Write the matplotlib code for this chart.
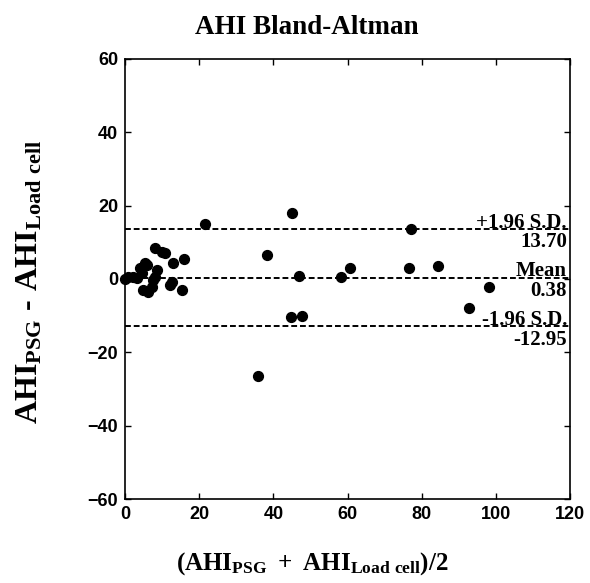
import numpy as np
import matplotlib
matplotlib.use("Agg")
import matplotlib.pyplot as plt

# mean of the two AHI measurements and their difference (PSG - load cell)
ahi_mean = [0.0, 0.8, 2.2, 3.2, 4.0, 4.6, 4.9, 5.4, 5.9, 6.2, 7.3, 7.6, 8.1, 8.1,
            8.6, 10.0, 10.8, 12.1, 12.7, 12.9, 15.4, 15.9, 21.6, 35.9, 38.3,
            44.8, 45.0, 46.9, 47.7, 58.3, 60.7, 76.6, 77.1, 84.4, 92.8, 98.2]
ahi_diff = [0.0, 0.5, 0.5, 0.3, 3.0, 1.6, -3.0, 4.3, 3.8, -3.5, -2.2, -0.3, 8.4, 0.5,
            2.5, 7.4, 7.0, -1.6, -0.8, 4.3, -3.0, 5.4, 15.0, -26.5, 6.5,
            -10.4, 18.0, 0.8, -10.0, 0.5, 3.0, 3.0, 13.6, 3.5, -8.0, -2.2]

mean_diff = 0.38
upper_loa = 13.70
lower_loa = -12.95

plt.rcParams['mathtext.fontset'] = 'custom'
plt.rcParams['mathtext.rm'] = 'Liberation Serif:bold'
plt.rcParams['mathtext.it'] = 'Liberation Serif:bold'
plt.rcParams['mathtext.bf'] = 'Liberation Serif:bold'

fig = plt.figure(figsize=(5.9, 5.83), dpi=100)
ax = fig.add_axes([0.212, 0.144, 0.754, 0.755])

ax.scatter(ahi_mean, ahi_diff, s=50, color='black', zorder=3, clip_on=False)

for val in (upper_loa, mean_diff, lower_loa):
    ax.axhline(val, color='black', linestyle=(0, (3, 1.5)), linewidth=1.4, zorder=2)

serif = dict(family='Liberation Serif', fontweight='bold', fontsize=15)
xr = 119.2
ax.text(xr, upper_loa + 0.3, '+1.96 S.D.', ha='right', va='baseline', **serif)
ax.text(xr, upper_loa - 0.9, '%.2f' % upper_loa, ha='right', va='top', **serif)
ax.text(xr, mean_diff + 0.3, 'Mean', ha='right', va='baseline', **serif)
ax.text(xr, mean_diff - 0.9, '%.2f' % mean_diff, ha='right', va='top', **serif)
ax.text(xr, lower_loa + 0.3, '-1.96 S.D.', ha='right', va='baseline', **serif)
ax.text(xr, lower_loa - 0.9, '%.2f' % lower_loa, ha='right', va='top', **serif)

ax.set_xlim(0, 120)
ax.set_ylim(-60, 60)
ax.set_xticks(np.arange(0, 121, 20))
ax.set_yticks(np.arange(-60, 61, 20))
ax.tick_params(direction='in', length=4, width=1, top=True, right=True,
               labelsize=13, pad=5)
for lab in ax.get_xticklabels() + ax.get_yticklabels():
    lab.set_fontweight('bold')
    lab.set_family('Liberation Sans')
for sp in ax.spines.values():
    sp.set_linewidth(1.2)

fig.text(0.52, 0.942, 'AHI Bland-Altman', fontsize=19.5, fontweight='bold',
         family='Liberation Serif', ha='center', va='baseline')
fig.text(0.529, 0.0223, r'$\mathrm{(AHI_{PSG}\ +\ AHI_{Load\ cell})/2}$',
         fontsize=18, ha='center', va='baseline')
fig.text(0.05, 0.516, '$\\mathrm{AHI_{PSG}\\ \u2010\\ AHI_{Load\\ cell}}$',
         fontsize=23, rotation=90, ha='center', va='center')

fig.savefig('out.png', dpi=100, facecolor='white')
